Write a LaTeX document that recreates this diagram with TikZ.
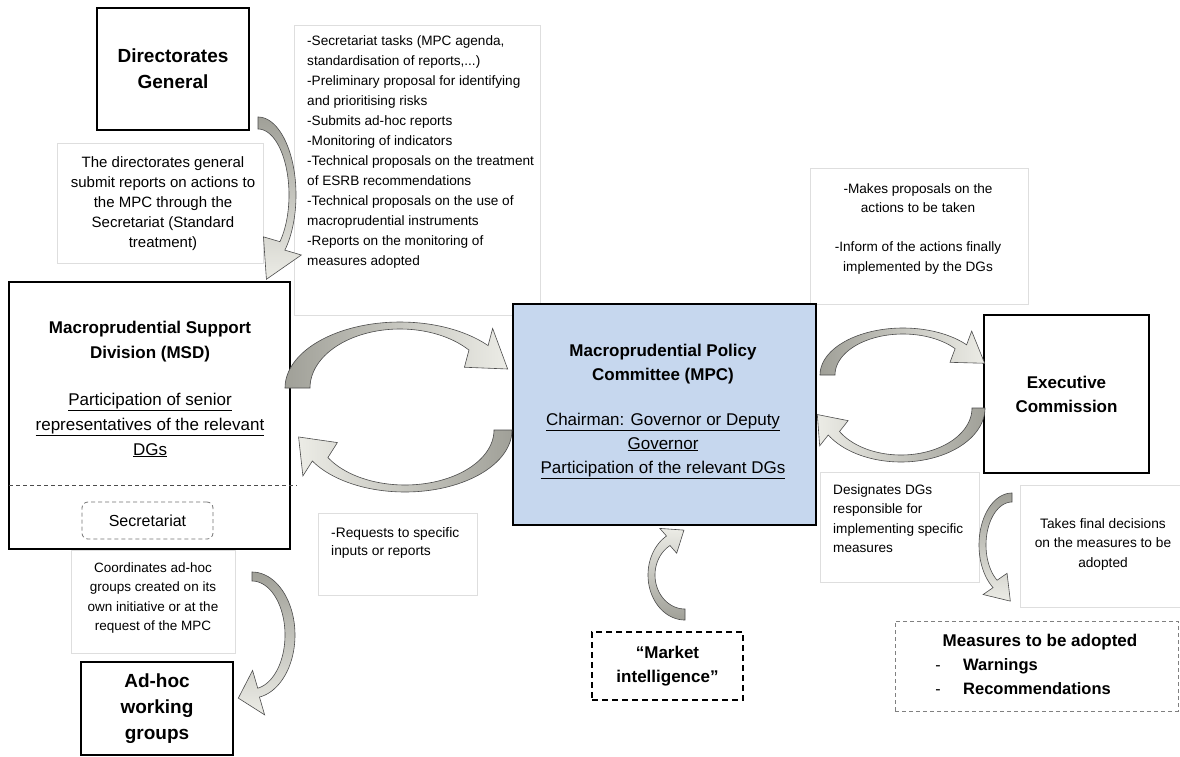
\documentclass[tikz,border=0pt]{standalone}
\usepackage{fontspec}
\setmainfont{Liberation Sans}
\definecolor{mpcblue}{RGB}{198,215,238}
\definecolor{arrdark}{RGB}{160,160,152}
\definecolor{arrlight}{RGB}{236,236,230}
\newcommand\fsz[2]{\fontsize{#1}{#2}\selectfont}
% curved block arrow: centre, outer radii, inner radii, start/end angle, (head half width, head length), shading
\def\carrow(#1,#2)(#3,#4)(#5,#6)(#7,#8){%
  \def\cax{#1}\def\cay{#2}\def\carx{#3}\def\cary{#4}\def\caix{#5}\def\caiy{#6}\def\caa{#7}\def\cab{#8}\carrowB}
\def\carrowB(#1,#2)#3{%
  \pgfmathsetmacro\caOx{\cax+\carx*cos(\cab)}%
  \pgfmathsetmacro\caOy{\cay+\cary*sin(\cab)}%
  \pgfmathsetmacro\caIx{\cax+\caix*cos(\cab)}%
  \pgfmathsetmacro\caIy{\cay+\caiy*sin(\cab)}%
  \pgfmathsetmacro\caMx{(\caOx+\caIx)/2}%
  \pgfmathsetmacro\caMy{(\caOy+\caIy)/2}%
  \pgfmathsetmacro\casg{ifthenelse(\cab>\caa,1,-1)}%
  \pgfmathsetmacro\caTx{-1*(\casg)*(\carx+\caix)/2*sin(\cab)}%
  \pgfmathsetmacro\caTy{(\casg)*(\cary+\caiy)/2*cos(\cab)}%
  \pgfmathsetmacro\caTl{sqrt((\caTx)*(\caTx)+(\caTy)*(\caTy))}%
  \pgfmathsetmacro\caTx{(\caTx)/(\caTl)}%
  \pgfmathsetmacro\caTy{(\caTy)/(\caTl)}%
  \pgfmathsetmacro\caUx{\caTy}%
  \pgfmathsetmacro\caUy{-1*(\caTx)}%
  \pgfmathparse{(\caUx)*(\caOx-\caIx)+(\caUy)*(\caOy-\caIy)}%
  \ifdim\pgfmathresult pt<0pt
    \pgfmathsetmacro\caUx{-1*(\caUx)}\pgfmathsetmacro\caUy{-1*(\caUy)}%
  \fi
  \path[arrowfill,#3]
    plot[domain=\caa:\cab,samples=60,variable=\ca] ({\cax+\carx*cos(\ca)},{\cay+\cary*sin(\ca)})
    -- ({\caMx+#1*(\caUx)},{\caMy+#1*(\caUy)})
    -- ({\caMx+#2*(\caTx)},{\caMy+#2*(\caTy)})
    -- ({\caMx-#1*(\caUx)},{\caMy-#1*(\caUy)})
    -- plot[domain=\cab:\caa,samples=60,variable=\ca] ({\cax+\caix*cos(\ca)},{\cay+\caiy*sin(\ca)})
    -- cycle;}
\begin{document}
\begin{tikzpicture}[x=1pt,y=-1pt,
  box/.style={draw=black,line width=1.5pt,fill=white,inner sep=0pt},
  note/.style={draw=black!13,line width=0.6pt,fill=white,inner sep=0pt},
  txt/.style={inner sep=0pt,align=#1},
  txt/.default=center,
  arrowfill/.style={draw=black!70,line width=0.6pt},
]
\useasboundingbox[fill=white] (0,0) rectangle (1180,756);

% ---------- notes (behind) ----------
\node[note,minimum width=246pt,minimum height=290pt] (secnote) at (417,170) {};
\node[txt=left,anchor=north west,font=\fsz{13.6}{20}] (sectext) at (307,35)
 {-Secretariat tasks (MPC agenda,\\standardisation of reports,...)\\-Preliminary proposal for identifying\\and prioritising risks\\-Submits ad-hoc reports\\-Monitoring of indicators\\-Technical proposals on the treatment\\of ESRB recommendations\\-Technical proposals on the use of\\macroprudential instruments\\-Reports on the monitoring of\\measures adopted};

\node[note,minimum width=206pt,minimum height=120pt] (dgnote) at (160,203) {};
\node[txt,font=\fsz{15}{20}] (dgnotetext) at (163,204)
 {The directorates general\\submit reports on actions to\\the MPC through the\\Secretariat (Standard\\treatment)};

\node[note,minimum width=218pt,minimum height=136pt] (ecnote) at (919,236) {};
\node[txt,anchor=north,font=\fsz{13.6}{19.5}] (ecnotetext) at (918,183)
 {-Makes proposals on the\\actions to be taken\\[19.5pt]-Inform of the actions finally\\implemented by the DGs};

\node[note,minimum width=164pt,minimum height=103pt] (coordnote) at (153,601.5) {};
\node[txt,font=\fsz{13.5}{19.3}] (coordtext) at (153,598)
 {Coordinates ad-hoc\\groups created on its\\own initiative or at the\\request of the MPC};

\node[note,minimum width=159pt,minimum height=82pt] (reqnote) at (397.5,554) {};
\node[txt=left,anchor=north west,font=\fsz{13.8}{18}] (reqtext) at (331,527)
 {-Requests to specific\\inputs or reports};

\node[note,minimum width=159pt,minimum height=110pt] (desnote) at (899.5,527) {};
\node[txt=left,anchor=north west,font=\fsz{13.6}{19.5}] (destext) at (833,484)
 {Designates DGs\\responsible for\\implementing specific\\measures};

\node[note,minimum width=172pt,minimum height=122pt] (takenote) at (1106,546) {};
\node[txt,anchor=north,font=\fsz{13.7}{19.7}] (taketext) at (1103,518)
 {Takes final decisions\\on the measures to be\\adopted};

% ---------- main boxes ----------
\node[box,minimum width=152pt,minimum height=122pt,align=center,font=\fsz{19}{26}\bfseries] (dg) at (173,69) {Directorates\\General};

\node[box,minimum width=281pt,minimum height=267pt] (msd) at (149.5,415.5) {};
\node[txt,anchor=north,font=\fsz{17}{25}] (msdtext) at (150,320.6)
 {\textbf{Macroprudential Support}\\\textbf{Division (MSD)}\\[22pt]\underline{Participation of senior}\\\underline{representatives of the relevant}\\\underline{DGs}};
\coordinate (dl1) at (9,485);
\coordinate (dl2) at (297,485);
\draw[black!70,line width=0.9pt,dash pattern=on 4pt off 3pt] (dl1) -- (dl2);
\node[draw=black!55,line width=0.8pt,dash pattern=on 4pt off 3pt,rounded corners=6pt,minimum width=131pt,minimum height=37pt,inner sep=0pt,font=\fsz{16}{19}] (secr) at (147.5,520.5) {Secretariat};

\node[box,minimum width=152pt,minimum height=93pt,align=center,font=\fsz{19}{26}\bfseries] (adhoc) at (157,708.5) {Ad-hoc\\working\\groups};

\node[box,fill=mpcblue,minimum width=303pt,minimum height=221pt] (mpc) at (664.5,414.5) {};
\node[txt,anchor=north,font=\fsz{17}{24}] (mpctext) at (663,343.6)
 {\textbf{Macroprudential Policy}\\\textbf{Committee (MPC)}\\[21pt]\underline{Chairman: Governor or Deputy}\\\underline{Governor}\\\underline{Participation of the relevant DGs}};

\node[box,minimum width=165pt,minimum height=158pt,align=center,font=\fsz{17}{24}\bfseries] (ec) at (1066.5,394) {Executive\\Commission};

\node[draw=black,line width=1.4pt,dash pattern=on 6pt off 4pt,fill=white,minimum width=151pt,minimum height=68pt,inner sep=0pt,align=center,font=\fsz{17}{24}\bfseries] (market) at (667.5,666) {“Market\\intelligence”};

\node[draw=black!50,line width=1pt,dash pattern=on 4pt off 3pt,fill=white,minimum width=283pt,minimum height=90pt,inner sep=0pt] (measures) at (1036.5,666) {};
\node[inner sep=0pt,anchor=base,font=\fsz{17}{24}\bfseries] (meastitle) at (1040,646) {Measures to be adopted};
\node[inner sep=0pt,anchor=base,font=\fsz{16}{24}] (md1) at (938,670) {-};
\node[inner sep=0pt,anchor=base,font=\fsz{16}{24}] (md2) at (938,694) {-};
\node[inner sep=0pt,anchor=base west,font=\fsz{16.5}{24}\bfseries] (mwarn) at (963,670) {Warnings};
\node[inner sep=0pt,anchor=base west,font=\fsz{16.5}{24}\bfseries] (mrec) at (963,694) {Recommendations};

% ---------- curved block arrows ----------
\carrow(258,195)(38,78)(31,66)(-90,45)(21,37){top color=arrdark,bottom color=arrlight}
\carrow(400,388)(115,66)(90,59)(180,320)(24,36){left color=arrdark,right color=arrlight}
\carrow(405,430)(107,62)(89,55)(0,150)(24,31){left color=arrlight,right color=arrdark}
\carrow(903,375)(83,47)(68,41)(180,320)(19,29){left color=arrdark,right color=arrlight}
\carrow(901,408)(84,54)(71,47)(0,150)(19,25){left color=arrlight,right color=arrdark}
\carrow(1012,545)(33,52)(26,43)(270,125)(16,23){top color=arrdark,bottom color=arrlight}
\carrow(252,635)(43,63)(33,54)(-90,80)(23,21){top color=arrdark,bottom color=arrlight}
\carrow(685,575)(37,45)(30,34)(90,240)(15,19){top color=arrlight,bottom color=arrdark}
\end{tikzpicture}
\end{document}
